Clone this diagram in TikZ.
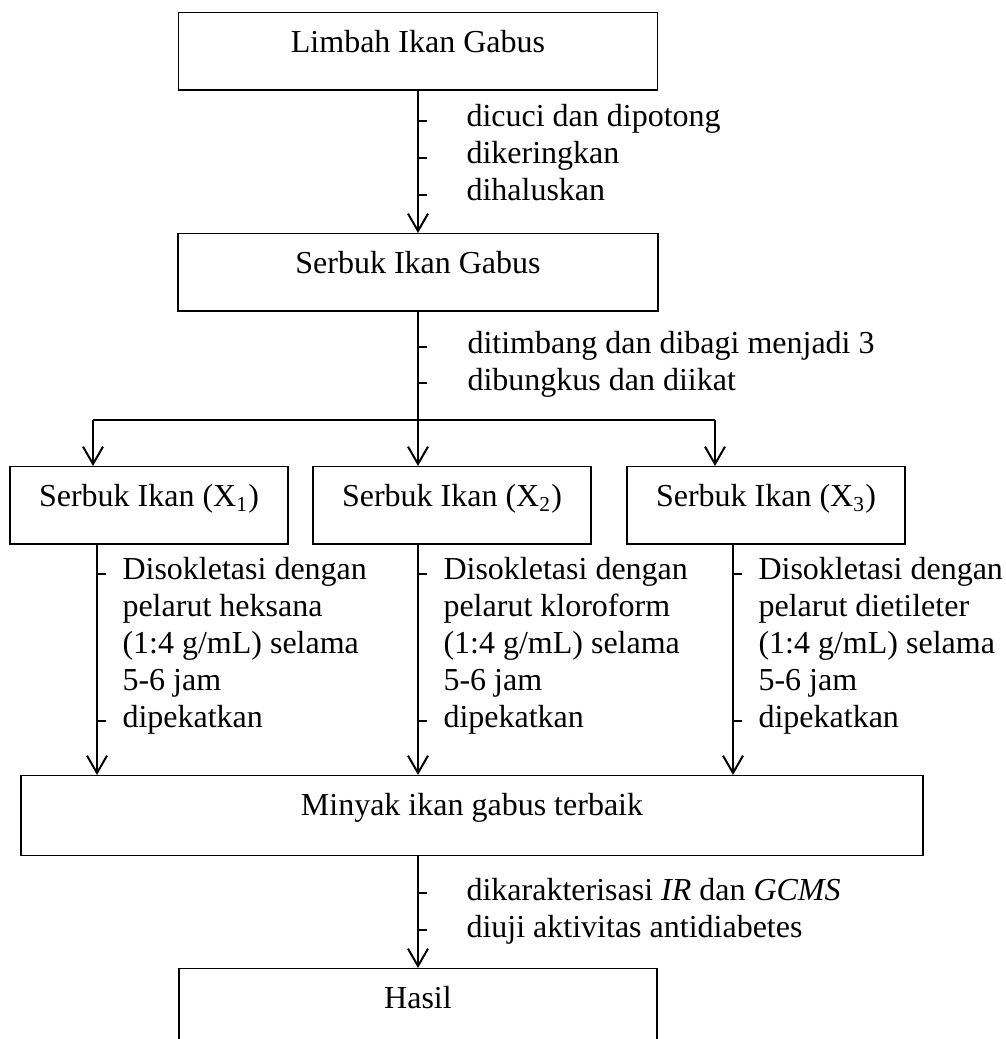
\documentclass[tikz,border=0pt]{standalone}
\usepackage{fontspec}
\setmainfont{Liberation Serif}
\usetikzlibrary{arrows.meta}
\tikzset{
  stepbox/.style={
    draw,
    line width=0.5pt,
    inner xsep=0pt,
    inner ysep=0pt,
    text height=15pt,
    text depth=14pt,
    anchor=north
  },
  flow/.style={
    line width=0.75pt,
    -{Straight Barb[length=6.5pt,width=7.5pt]}
  },
  trunk/.style={line width=0.75pt},
  bullet/.style={line width=0.5pt},
  notes/.style={
    anchor=base west,
    align=left,
    inner sep=0pt
  }
}

\begin{document}
\begin{tikzpicture}[x=0.375pt,y=-0.375pt,font=\fontsize{12pt}{13.8pt}\selectfont]
  \useasboundingbox (0,0) rectangle (1006,1039);
  \clip (0,0) rectangle (1006,1039);

  % boxes
  \node[stepbox, minimum width=179.6pt] (limbah) at (418,12) {Limbah Ikan Gabus};
  \node[stepbox, minimum width=180pt] (serbuk) at (418,233) {Serbuk Ikan Gabus};
  \node[stepbox, minimum width=104.25pt] (x1) at (149,466) {Serbuk Ikan (X\textsubscript{1})};
  \node[stepbox, minimum width=104.25pt] (x2) at (452,466) {Serbuk Ikan (X\textsubscript{2})};
  \node[stepbox, minimum width=104.25pt] (x3) at (766,466) {Serbuk Ikan (X\textsubscript{3})};
  \node[stepbox, minimum width=338.25pt, text depth=15pt] (minyak) at (472,775) {Minyak ikan gabus terbaik};
  \node[stepbox, minimum width=179.25pt, text depth=40pt] (hasil) at (418,968) {Hasil};

  % connectors
  \coordinate (split) at (418,420);
  \coordinate (in1) at (93,420);
  \coordinate (in3) at (715,420);
  \draw[flow] (limbah.south) -- (serbuk.north);
  \draw[trunk] (serbuk.south) -- (split);
  \draw[trunk] (in1) -- (in3);
  \draw[flow] (in1) -- (in1 |- x1.north);
  \draw[flow] (split) -- (split |- x2.north);
  \draw[flow] (in3) -- (in3 |- x3.north);
  \foreach \i/\xx in {1/97,2/418,3/733}
    \draw[flow] (\xx,0 |- x\i.south) -- (\xx,0 |- minyak.north);
  \draw[flow] (418,0 |- minyak.south) -- (hasil.north);

  % notes (placed at the baseline of their last line)
  \node[notes] (cuci) at (466,200) {dicuci dan dipotong\\dikeringkan\\dihaluskan};
  \node[notes] (timbang) at (467,390) {ditimbang dan dibagi menjadi 3\\dibungkus dan diikat};
  \node[notes] (sokhlet1) at (122,727) {Disokletasi dengan\\pelarut heksana\\(1:4 g/mL) selama\\5-6 jam\\dipekatkan};
  \node[notes] (sokhlet2) at (443,727) {Disokletasi dengan\\pelarut kloroform\\(1:4 g/mL) selama\\5-6 jam\\dipekatkan};
  \node[notes] (sokhlet3) at (758,727) {Disokletasi dengan\\pelarut dietileter\\(1:4 g/mL) selama\\5-6 jam\\dipekatkan};
  \node[notes] (uji) at (466,937) {dikarakterisasi \textit{IR} dan \textit{GCMS}\\diuji aktivitas antidiabetes};

  \foreach \y in {121,158,195,347,383,893,930}
    \draw[bullet] (418,\y) -- ++(9,0);
  \foreach \xx in {97,418,733}
    \foreach \y in {574,721}
      \draw[bullet] (\xx,\y) -- ++(9,0);
\end{tikzpicture}
\end{document}
